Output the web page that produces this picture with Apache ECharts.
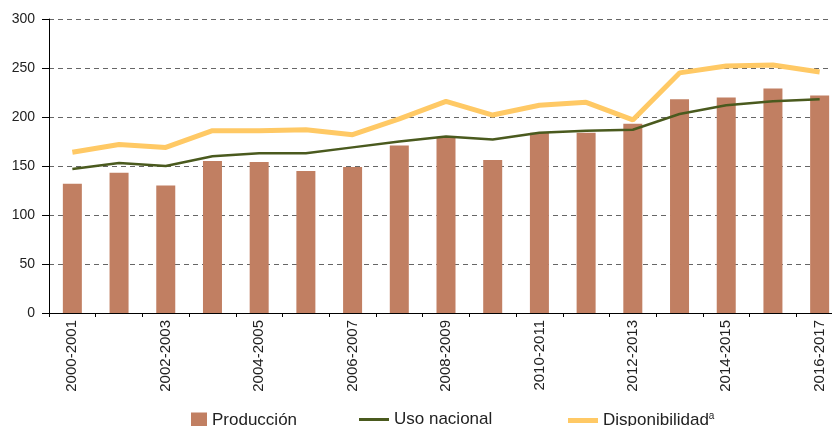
<!DOCTYPE html>
<html>
<head>
<meta charset="utf-8">
<script src="https://cdn.jsdelivr.net/npm/echarts@6/dist/echarts.min.js"></script>
<style>
  html, body { margin: 0; padding: 0; background: #fff; overflow: hidden; }
  /* the plot runs past the right edge in the original, so the canvas is wider than the window */
  #chart { width: 852px; height: 426px; }
</style>
</head>
<body>
<div id="chart"></div>
<script>
const categories = [
  '2000-2001', '2001-2002', '2002-2003', '2003-2004', '2004-2005', '2005-2006',
  '2006-2007', '2007-2008', '2008-2009', '2009-2010', '2010-2011', '2011-2012',
  '2012-2013', '2013-2014', '2014-2015', '2015-2016', '2016-2017'
];
const produccion = [132, 143, 130, 155, 154, 145, 149, 171, 179, 156, 184, 184, 193, 218, 220, 229, 222];
const usoNacional = [147, 153, 150, 160, 163, 163, 169, 175, 180, 177, 184, 186, 187, 203, 212, 216, 218];
const disponibilidad = [164, 172, 169, 186, 186, 187, 182, 198, 216, 202, 212, 215, 197, 245, 252, 253, 246];
const yTicks = [0, 50, 100, 150, 200, 250, 300];

const chart = echarts.init(document.getElementById('chart'));

const font = '"Liberation Sans", Arial, sans-serif';
const legendText = {
  fontFamily: font,
  fontSize: 17,
  color: '#222',
  rich: {
    sup: { fontSize: 10, verticalAlign: 'top', padding: [0, 0, 9, 0], color: '#222', fontFamily: font }
  }
};

const option = {
  animation: false,
  grid: { left: 49, top: 19, bottom: 113, width: 794, containLabel: false },
  legend: [
    {
      data: ['Producción'], left: 191, top: 412, itemWidth: 16, itemHeight: 16,
      icon: 'rect', textStyle: legendText, padding: 0
    },
    {
      data: ['Uso nacional'], left: 359, top: 411, itemWidth: 30, itemHeight: 3,
      icon: 'rect', textStyle: legendText, padding: 0
    },
    {
      data: ['Disponibilidad'], left: 568, top: 411, itemWidth: 30, itemHeight: 5,
      icon: 'rect', textStyle: legendText, padding: 0,
      formatter: name => name + '{sup|a}'
    }
  ],
  xAxis: {
    type: 'category',
    data: categories,
    boundaryGap: true,
    axisLine: { lineStyle: { color: '#000', width: 1 } },
    axisTick: { show: true, interval: 0, length: 4, lineStyle: { color: '#000' } },
    axisLabel: {
      interval: 1, rotate: 90, margin: 7, color: '#222', fontSize: 15, fontFamily: font
    }
  },
  yAxis: {
    type: 'value',
    min: yTicks[0], max: yTicks[yTicks.length - 1], interval: 50,
    axisLine: { show: true, lineStyle: { color: '#000', width: 1 } },
    axisTick: { show: true, length: 7, lineStyle: { color: '#000' } },
    axisLabel: { margin: 14, color: '#222', fontSize: 14, fontFamily: font },
    splitLine: { show: true, lineStyle: { color: '#666', type: [5, 4], width: 1 } }
  },
  series: [
    {
      name: 'Producción', type: 'bar', data: produccion, barWidth: 19,
      itemStyle: { color: '#C17F62' }
    },
    {
      name: 'Uso nacional', type: 'line', data: usoNacional, symbol: 'none',
      lineStyle: { color: '#4A5A1E', width: 2.5 }, itemStyle: { color: '#4A5A1E' }, z: 4
    },
    {
      name: 'Disponibilidad', type: 'line', data: disponibilidad, symbol: 'none',
      lineStyle: { color: '#FFC965', width: 5 }, itemStyle: { color: '#FFC965' }, z: 3
    }
  ]
};

chart.setOption(option);
</script>
</body>
</html>
